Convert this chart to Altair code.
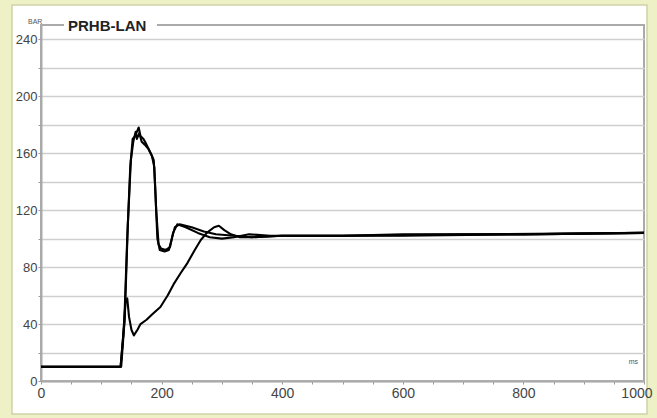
import altair as alt
import pandas as pd

# --- data (time in ms, pressure in bar) ---
t_a = [0, 132, 138, 143, 148, 152, 156, 160, 162, 165, 170, 175, 182, 187, 190, 193, 197, 205, 212, 217, 222, 230, 250, 270, 290, 320, 350, 400, 500, 600, 800, 1000]
v_a = [10, 10, 40, 100, 150, 170, 172, 176, 178, 172, 170, 166, 160, 155, 130, 100, 92, 91, 92, 100, 108, 110, 108, 105, 103, 102, 101, 102, 102, 103, 103, 104]

t_b = [0, 132, 136, 140, 143, 146, 150, 154, 160, 165, 175, 185, 198, 210, 220, 232, 243, 255, 265, 275, 287, 295, 304, 315, 330, 350, 400, 500, 700, 1000]
v_b = [10, 10, 30, 55, 58, 45, 36, 32, 36, 40, 43, 47, 52, 60, 68, 76, 83, 92, 99, 104, 108, 109, 106, 103, 101, 101, 102, 102, 103, 104]

t_c = [0, 133, 139, 144, 149, 153, 157, 159, 163, 167, 172, 178, 184, 188, 191, 195, 199, 207, 214, 219, 226, 240, 260, 280, 300, 320, 345, 380, 450, 600, 800, 1000]
v_c = [10, 10, 45, 110, 155, 168, 175, 170, 174, 168, 166, 163, 158, 150, 120, 96, 93, 92, 94, 104, 110, 108, 104, 101, 100, 101, 103, 102, 102, 102, 103, 104]

series = [("A", t_a, v_a), ("B", t_b, v_b), ("C", t_c, v_c)]
rows = []
for name, ts, vs in series:
    for i, (t, v) in enumerate(zip(ts, vs)):
        rows.append({"s": name, "t": t, "v": v, "o": i})
df = pd.DataFrame(rows)

x_ticks = list(range(0, 1001, 50))
y_ticks = list(range(0, 241, 20))

FONT = "Liberation Sans"
one = pd.DataFrame({"k": [0]})

lines = alt.Chart(df).mark_line(color="black", strokeWidth=2.1, strokeJoin="round").encode(
    x=alt.X("t:Q", scale=alt.Scale(domain=[0, 1000], nice=False, zero=False),
            axis=alt.Axis(values=x_ticks, format="d",
                          labelExpr="datum.value % 200 == 0 ? datum.label : ''",
                          title=None, grid=False, tickSize=3, tickColor="#999999",
                          domainColor="#aaaaaa", domainWidth=2, zindex=1,
                          labelFontSize=14, labelColor="#444444", labelFont=FONT,
                          labelPadding=2, labelFlush=False,
                          labelAlign=alt.ExprRef("datum.value == 1000 ? 'right' : 'center'"),
                          labelOffset=alt.ExprRef("datum.value == 1000 ? 8 : 0"))),
    y=alt.Y("v:Q", scale=alt.Scale(domain=[0, 250], nice=False),
            axis=alt.Axis(values=y_ticks, format="d",
                          labelExpr="datum.value % 40 == 0 ? datum.label : ''",
                          title=None, grid=True, gridColor="#cfcfcf", gridWidth=1.6,
                          tickSize=3, tickColor="#999999",
                          domainColor="#aaaaaa", domainWidth=2,
                          labelFontSize=13, labelColor="#444444", labelFont=FONT,
                          labelPadding=1)),
    detail="s:N",
    order="o:Q",
)

# frame: pale yellow strips around a white panel
ycol = "#eef0c6"
strip_l = alt.Chart(one).mark_rect(color=ycol).encode(x=alt.value(-41), x2=alt.value(-29), y=alt.value(-25), y2=alt.value(393))
strip_r = alt.Chart(one).mark_rect(color=ycol).encode(x=alt.value(606), x2=alt.value(616), y=alt.value(-25), y2=alt.value(393))
strip_t = alt.Chart(one).mark_rect(color=ycol).encode(x=alt.value(-41), x2=alt.value(616), y=alt.value(-25), y2=alt.value(-20))
strip_b = alt.Chart(one).mark_rect(color=ycol).encode(x=alt.value(-41), x2=alt.value(616), y=alt.value(389), y2=alt.value(393))
edge = alt.Chart(one).mark_rect(fill=None, stroke="#cfd2a6", strokeWidth=1.5).encode(
    x=alt.value(-29), x2=alt.value(606), y=alt.value(-20), y2=alt.value(389))

# chart label sitting on the top border
title_bg = alt.Chart(one).mark_rect(color="white").encode(x=alt.value(23), x2=alt.value(116), y=alt.value(-6), y2=alt.value(8))
title_txt = alt.Chart(one).mark_text(text="PRHB-LAN", align="left", baseline="middle",
                                     font=FONT, fontSize=15, fontWeight="bold", color="#222222").encode(
    x=alt.value(27), y=alt.value(1))
unit_y = alt.Chart(one).mark_text(text="BAR", align="left", baseline="middle",
                                  font=FONT, fontSize=7, color="#555555").encode(x=alt.value(-13), y=alt.value(-3))
unit_x = alt.Chart(one).mark_text(text="ms", align="right", baseline="middle",
                                  font=FONT, fontSize=7, color="#555555").encode(x=alt.value(597), y=alt.value(337))

chart = alt.layer(
    lines, title_bg, title_txt, unit_y, unit_x,
    strip_l, strip_r, strip_t, strip_b, edge,
).properties(
    width=603, height=356,
    autosize=alt.AutoSizeParams(type="none"),
    padding={"left": 41, "top": 25, "right": 13, "bottom": 37},
    background="white",
).configure_view(
    stroke="#aaaaaa", strokeWidth=2,
)

chart.save("out.html", embed_options={"renderer": "svg", "actions": False})
